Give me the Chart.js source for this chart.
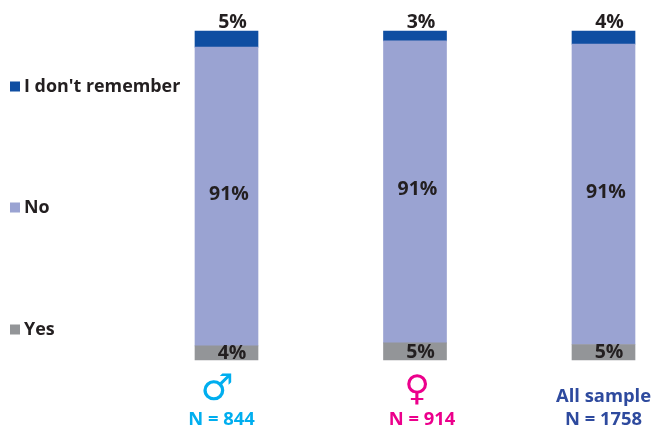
<!DOCTYPE html>
<html><head><meta charset="utf-8">
<script src="https://cdn.jsdelivr.net/npm/chart.js@4"></script>
<style>html,body{margin:0;padding:0;background:#fff}#w{width:652px;height:428px}</style>
</head><body><div id="w"><canvas id="c"></canvas></div>
<script>
const categories = ['Male', 'Female', 'All sample'];
const yesValues = [4.3, 5.2, 4.7];
const noValues = [90.8, 91.8, 91.3];
const dontRememberValues = [4.9, 3.0, 4.0];
const yesLabels = ['4%', '5%', '5%'];
const noLabels = ['91%', '91%', '91%'];
const dontRememberLabels = ['5%', '3%', '4%'];
const sampleLabels = ['N = 844', 'N = 914', 'N = 1758'];
const symbols = ['♂', '♀', 'All sample'];
const catColors = ['#00aeef', '#ec008c', '#2e4a9e'];
const FONT = '"Open Sans", "Noto Sans", sans-serif';
const INK = '#231f20';

const overlay = {
  id: 'overlay',
  afterDatasetsDraw(chart) {
    const {ctx, scales: {x}} = chart;
    ctx.save();
    ctx.textBaseline = 'middle';
    // data labels
    const sets = [yesLabels, noLabels, dontRememberLabels];
    ctx.font = 'bold 19.5px ' + FONT;
    ctx.fillStyle = INK;
    ctx.textAlign = 'center';
    sets.forEach((labels, d) => {
      const meta = chart.getDatasetMeta(d);
      labels.forEach((t, i) => {
        const bar = meta.data[i];
        const p = bar.getProps(['x', 'y', 'base'], true);
        let lx = p.x + 5.5, ly = (p.y + p.base) / 2 + 0.5;
        if (d === 1) { lx = p.x + 2.5; ly = (p.y + p.base) / 2 - 2; }
        if (d === 2) { lx = p.x + 6; ly = p.y - 9; }
        ctx.fillText(t, lx, ly);
      });
    });
    // legend, spaced down the side of the first bar
    const legendY = [329, 207, 86];
    const legendX = 10;
    chart.data.datasets.forEach((ds, d) => {
      ctx.fillStyle = ds.backgroundColor;
      ctx.fillRect(legendX, legendY[d] - 4.5, 10, 10);
      ctx.fillStyle = INK;
      ctx.textAlign = 'left';
      ctx.font = 'bold 17.9px ' + FONT;
      ctx.fillText(ds.label, legendX + 14, legendY[d] + 1);
    });
    // category labels
    ctx.textAlign = 'center';
    categories.forEach((c, i) => {
      const cx = x.getPixelForValue(i);
      ctx.fillStyle = catColors[i];
      ctx.font = 'bold 18.4px ' + FONT;
      ctx.fillText(sampleLabels[i], cx + (i === 0 ? -5 : i === 1 ? 7 : 0), 420);
      if (i === 2) {
        ctx.fillText(symbols[i], cx, 397);
      } else {
        ctx.font = (i === 0 ? '37px' : '35px') + ' "DejaVu Sans"';
        ctx.fillText(symbols[i], cx + (i === 0 ? -9.5 : 2), i === 0 ? 390 : 391);
      }
    });
    ctx.restore();
  }
};

new Chart(document.getElementById('c'), {
  type: 'bar',
  data: {
    labels: categories,
    datasets: [
      {label: 'Yes', data: yesValues, backgroundColor: '#939598'},
      {label: 'No', data: noValues, backgroundColor: '#9aa3d2'},
      {label: "I don't remember", data: dontRememberValues, backgroundColor: '#0f4ea2'}
    ].map(d => Object.assign(d, {barThickness: 63, clip: false, borderWidth: 0}))
  },
  options: {
    responsive: true,
    maintainAspectRatio: false,
    animation: false,
    layout: {padding: {left: 226.5, right: 48.5, top: 31, bottom: 68}},
    plugins: {legend: {display: false}, tooltip: {enabled: false}},
    scales: {
      x: {stacked: true, offset: false, display: false, grid: {display: false}},
      y: {stacked: true, min: 0, max: 100, display: false, grid: {display: false}}
    }
  },
  plugins: [overlay]
});
</script></body></html>
